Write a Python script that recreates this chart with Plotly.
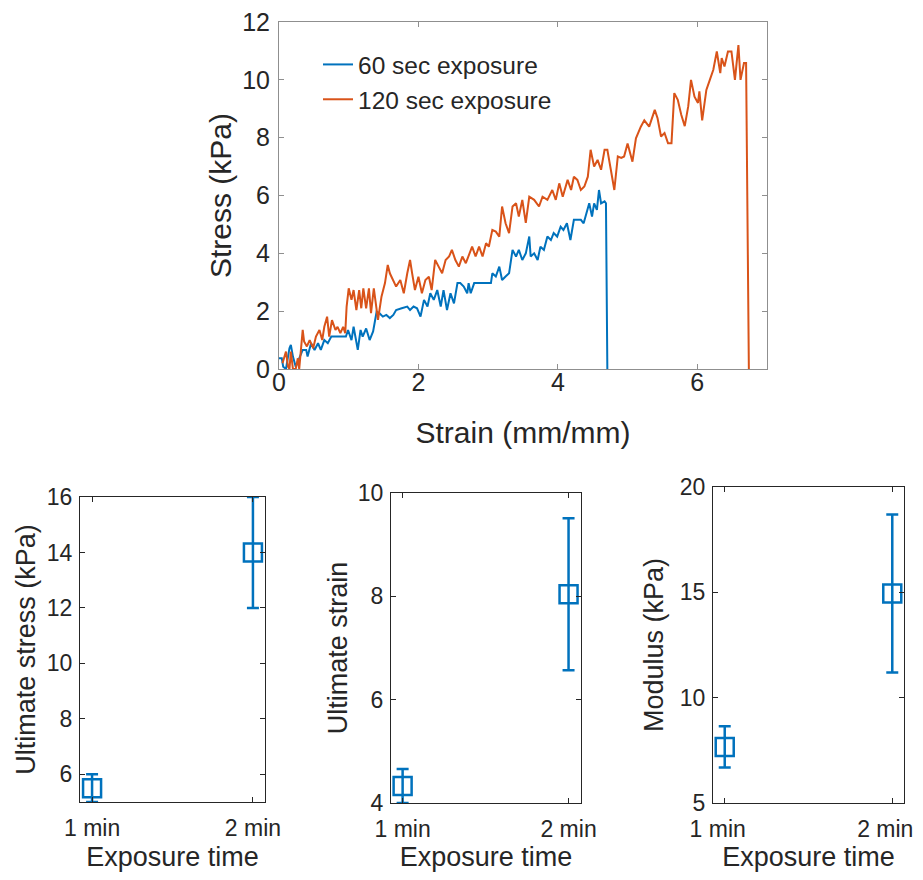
import plotly.graph_objects as go

# ---------------- Data ----------------
strain_60 = [0.00,0.04,0.06,0.10,0.15,0.17,0.20,0.22,0.24,0.29,
             0.34,0.39,0.41,0.46,0.51,0.56,0.60,0.65,0.70,0.75,
             0.80,0.84,0.96,0.99,1.04,1.07,1.11,1.13,1.17,1.20,
             1.25,1.30,1.35,1.40,1.44,1.49,1.54,1.59,1.64,1.68,
             1.76,1.84,1.88,1.93,1.98,2.03,2.08,2.13,2.17,2.22,
             2.27,2.32,2.36,2.41,2.46,2.51,2.56,2.60,2.65,2.70,
             2.72,2.75,2.80,2.84,3.04,3.06,3.11,3.16,3.20,3.25,
             3.30,3.35,3.40,3.44,3.49,3.54,3.59,3.61,3.66,3.71,
             3.75,3.80,3.85,3.90,3.94,3.99,4.04,4.08,4.13,4.18,
             4.23,4.28,4.33,4.37,4.40,4.45,4.49,4.52,4.56,4.59,
             4.62,4.67,4.69,4.71]
stress_60 = [0.37,0.37,0.08,0.00,0.72,0.83,0.43,0.20,0.08,0.37,
             0.66,0.66,0.43,0.89,0.66,0.89,0.66,1.00,0.89,1.12,
             1.12,1.12,1.12,1.35,1.00,1.46,0.89,0.66,1.35,1.12,
             1.40,1.00,1.30,1.98,1.93,1.81,1.87,1.76,1.87,2.04,
             2.10,2.16,2.04,2.16,2.10,1.81,2.39,2.16,2.62,2.39,
             2.73,2.16,2.73,2.04,2.62,2.27,2.97,2.97,2.85,2.62,
             2.97,2.62,2.97,2.97,2.97,3.31,3.20,3.54,3.08,3.20,
             3.31,4.12,3.89,4.12,3.77,4.00,4.58,3.89,4.00,3.77,
             4.23,4.12,4.58,4.46,4.70,4.58,4.92,4.81,5.04,4.46,
             5.16,5.16,5.16,5.04,5.27,5.73,5.27,5.73,5.50,6.19,
             5.73,5.80,5.73,0.00]

strain_120 = [0.05,0.10,0.13,0.15,0.17,0.20,0.24,0.27,0.29,0.32,
              0.34,0.36,0.40,0.44,0.49,0.53,0.58,0.62,0.65,0.69,
              0.72,0.76,0.81,0.84,0.88,0.92,0.95,0.97,1.00,1.04,
              1.07,1.11,1.15,1.18,1.21,1.25,1.29,1.32,1.36,1.42,
              1.47,1.52,1.56,1.59,1.64,1.68,1.74,1.79,1.84,1.88,
              1.91,1.95,2.00,2.05,2.10,2.15,2.19,2.24,2.29,2.34,
              2.39,2.44,2.48,2.53,2.58,2.63,2.68,2.73,2.77,2.82,
              2.87,2.92,2.97,3.01,3.06,3.11,3.16,3.20,3.25,3.30,
              3.35,3.40,3.44,3.49,3.54,3.59,3.66,3.73,3.78,3.85,
              3.92,3.97,4.02,4.07,4.14,4.19,4.23,4.28,4.33,4.38,
              4.43,4.47,4.52,4.57,4.62,4.67,4.71,4.76,4.81,4.86,
              4.91,4.95,5.00,5.07,5.12,5.19,5.24,5.31,5.39,5.43,
              5.48,5.53,5.58,5.63,5.67,5.72,5.77,5.82,5.87,5.91,
              5.96,6.01,6.03,6.07,6.13,6.18,6.23,6.28,6.33,6.35,
              6.39,6.44,6.49,6.54,6.59,6.62,6.67,6.70,6.74]
stress_120 = [0.20,0.60,0.08,0.00,0.60,0.00,0.00,0.37,0.00,0.89,
              1.35,0.95,0.78,1.00,0.72,1.12,1.35,1.00,1.46,1.81,
              1.12,1.69,1.35,1.46,1.24,1.46,1.24,2.16,2.79,2.39,
              2.73,2.04,2.73,2.10,2.79,2.10,2.79,1.93,2.79,1.70,
              2.50,2.97,3.60,3.31,3.08,2.85,3.08,2.62,3.31,3.77,
              3.31,2.73,3.19,2.62,3.08,3.19,2.73,3.77,3.54,3.31,
              3.77,3.89,4.12,3.77,3.54,3.89,3.66,4.00,4.23,3.89,
              4.23,3.89,4.35,4.23,4.81,4.75,4.58,5.62,5.04,4.70,
              5.62,5.73,5.27,5.85,5.05,5.96,5.85,5.62,5.96,5.85,
              6.19,5.85,6.42,5.96,6.54,6.19,6.65,6.54,6.19,6.31,
              6.65,7.58,7.00,7.23,6.89,7.58,7.58,6.89,6.19,7.35,
              7.30,7.35,7.80,7.17,7.98,8.38,8.60,8.38,8.96,8.67,
              8.04,8.16,7.81,7.81,9.54,9.31,8.79,8.40,9.08,10.00,
              9.42,9.20,9.60,8.60,9.65,10.00,10.35,10.98,10.23,10.75,
              10.46,10.98,10.98,10.00,11.20,10.00,10.58,10.58,0.00]

exposure_pos = [1, 2]
exposure_labels = ["1 min", "2 min"]
ult_stress_mean = [5.5, 14.0]
ult_stress_err = [0.5, 2.0]
ult_strain_mean = [4.33, 8.04]
ult_strain_err = [0.33, 1.47]
modulus_mean = [7.66, 14.95]
modulus_err = [0.98, 3.75]

# ---------------- Style ----------------
BLUE = "#0072BD"
ORANGE = "#D95319"
FONT = "Arial, Liberation Sans, sans-serif"
TXT = "#262626"
OFF = 8                      # default page body margin
SCREEN_W, SCREEN_H = 923, 880
W, H = SCREEN_W, SCREEN_H - 2 * OFF

def px_x(a, b):
    return [(a - OFF) / W, (b - OFF) / W]

def px_y(top, bottom):
    base = OFF + H
    return [(base - bottom) / H, (base - top) / H]

fig = go.Figure()

fig.add_trace(go.Scatter(x=strain_60, y=stress_60, mode="lines", name="60 sec exposure",
                         legendgroup="a",
                         line=dict(color=BLUE, width=2), xaxis="x", yaxis="y"))
fig.add_trace(go.Scatter(x=strain_120, y=stress_120, mode="lines", name="120 sec exposure",
                         legendgroup="b",
                         line=dict(color=ORANGE, width=2), xaxis="x", yaxis="y"))

panels = [
    (ult_stress_mean, ult_stress_err, "x2", "y2"),
    (ult_strain_mean, ult_strain_err, "x3", "y3"),
    (modulus_mean, modulus_err, "x4", "y4"),
]
for mean, err, xa, ya in panels:
    fig.add_trace(go.Scatter(
        x=exposure_pos, y=mean, mode="markers", showlegend=False,
        marker=dict(symbol="square-open", size=18, color=BLUE, line=dict(width=2.5, color=BLUE)),
        error_y=dict(type="data", array=err, visible=True, color=BLUE, thickness=2.5, width=6),
        xaxis=xa, yaxis=ya, cliponaxis=False))

def ax_common(color, fsize, standoff):
    return dict(showline=True, linecolor=color, linewidth=1, mirror="ticks",
                ticks="inside", ticklen=5, tickcolor=color, showgrid=False,
                zeroline=False, automargin=False, ticklabelstandoff=standoff,
                ticklabeloverflow="allow",
                tickfont=dict(family=FONT, size=fsize, color=TXT))

top_line = "#8f8f8f"
bot_line = "#262626"

layout = dict(
    width=W, height=H, margin=dict(l=0, r=0, t=0, b=0),
    paper_bgcolor="white", plot_bgcolor="white",
    font=dict(family=FONT, color=TXT),
    showlegend=True,
    legend=dict(x=310 / W, y=1 - 34 / H, xanchor="left", yanchor="top", bgcolor="rgba(0,0,0,0)",
                font=dict(family=FONT, size=24.5, color=TXT), tracegroupgap=0),
    xaxis=dict(domain=px_x(279, 767), range=[0, 7], tickvals=[0, 2, 4, 6], anchor="y",
               title=dict(text="Strain (mm/mm)", font=dict(family=FONT, size=30, color=TXT), standoff=26),
               **ax_common(top_line, 25, -9)),
    yaxis=dict(domain=px_y(22, 369), range=[0, 12], tickvals=[0, 2, 4, 6, 8, 10, 12], anchor="x",
               title=dict(text="Stress (kPa)", font=dict(family=FONT, size=30, color=TXT), standoff=1),
               **ax_common(top_line, 25, 3)),
)

bottom = [
    ("x2", "y2", (80, 265), (497, 802), [0.925, 2.075], [5, 16], [6, 8, 10, 12, 14, 16], "Ultimate stress (kPa)", 3, 0),
    ("x3", "y3", (391, 581), (493, 803), [0.93, 2.075], [4, 10], [4, 6, 8, 10], "Ultimate strain", 2, 0),
    ("x4", "y4", (713, 904), (487, 803), [0.93, 2.07], [5, 20], [5, 10, 15, 20], "Modulus (kPa)", 8, -7),
]
for xa, ya, (xl, xr), (yt, yb), xr_, yr_, ytv, ytitle, ystand, xshift in bottom:
    xkey = "xaxis" + xa[1:]
    ykey = "yaxis" + ya[1:]
    layout[xkey] = dict(domain=px_x(xl, xr), range=xr_, tickvals=exposure_pos, ticktext=exposure_labels,
                        anchor=ya, ticklabelshift=xshift,
                        title=dict(text="Exposure time", font=dict(family=FONT, size=27, color=TXT), standoff=11),
                        **ax_common(bot_line, 23, 5))
    layout[ykey] = dict(domain=px_y(yt, yb), range=yr_, tickvals=ytv, anchor=xa,
                        title=dict(text=ytitle, font=dict(family=FONT, size=27, color=TXT), standoff=ystand),
                        **ax_common(bot_line, 23, 2))

fig.update_layout(**layout)
fig.write_html("out.html")
